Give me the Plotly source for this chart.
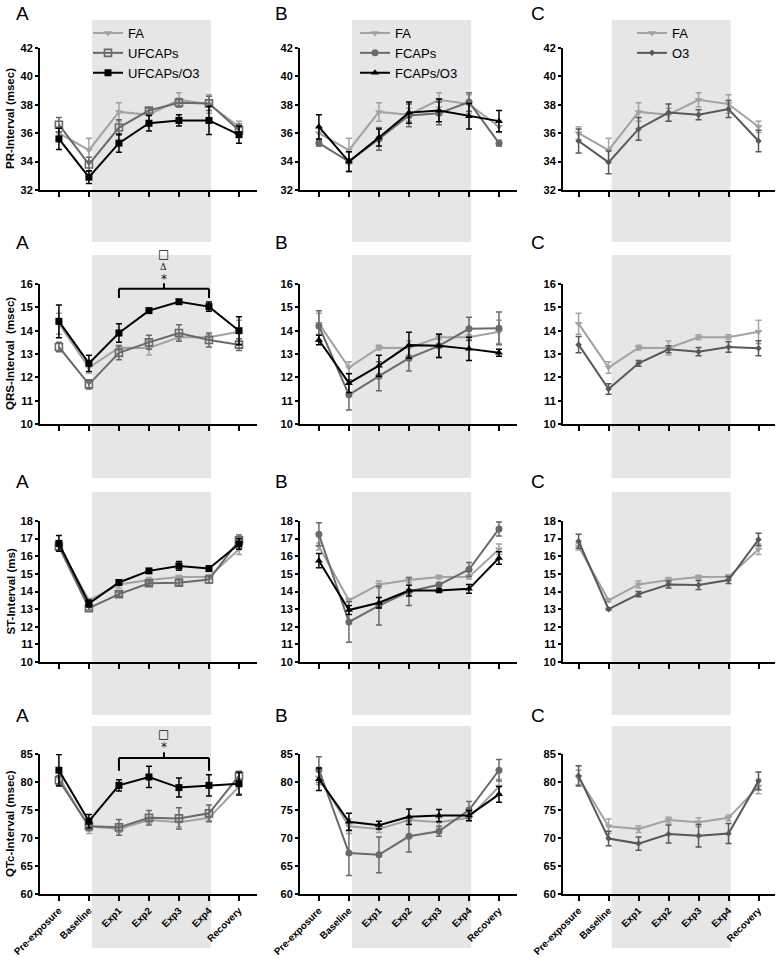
import plotly.graph_objects as go

# ---------------- data ----------------
categories = ["Pre-exposure", "Baseline", "Exp1", "Exp2", "Exp3", "Exp4", "Recovery"]

# PR-interval (msec)
pr_fa = [36.0, 34.8, 37.5, 37.3, 38.35, 38.05, 36.45]
pr_fa_err = [0.45, 0.85, 0.65, 0.45, 0.5, 0.65, 0.4]
pr_ufcaps = [36.6, 33.8, 36.4, 37.6, 38.15, 38.1, 36.2]
pr_ufcaps_err = [0.5, 0.5, 0.55, 0.2, 0.3, 0.5, 0.45]
pr_ufcaps_o3 = [35.6, 32.9, 35.3, 36.7, 36.9, 36.9, 35.9]
pr_ufcaps_o3_err = [0.75, 0.45, 0.65, 0.55, 0.4, 1.0, 0.6]
pr_fcaps = [35.3, 34.0, 35.6, 37.25, 37.4, 38.2, 35.3]
pr_fcaps_err = [0.2, 0.7, 0.8, 0.8, 0.8, 0.65, 0.2]
pr_fcaps_o3 = [36.45, 34.0, 35.7, 37.45, 37.6, 37.2, 36.85]
pr_fcaps_o3_err = [0.85, 0.7, 0.6, 0.75, 0.8, 0.9, 0.75]
pr_o3 = [35.45, 33.95, 36.3, 37.45, 37.3, 37.7, 35.45]
pr_o3_err = [0.85, 0.8, 0.8, 0.6, 0.35, 0.6, 0.75]

# QRS-interval (msec)
qrs_fa = [14.3, 12.42, 13.27, 13.26, 13.72, 13.72, 13.95]
qrs_fa_err = [0.45, 0.25, 0.1, 0.3, 0.1, 0.1, 0.5]
qrs_ufcaps = [13.3, 11.7, 13.05, 13.5, 13.9, 13.6, 13.4]
qrs_ufcaps_err = [0.2, 0.2, 0.3, 0.3, 0.35, 0.3, 0.25]
qrs_ufcaps_o3 = [14.4, 12.6, 13.9, 14.86, 15.24, 15.03, 14.0]
qrs_ufcaps_o3_err = [0.7, 0.35, 0.4, 0.08, 0.08, 0.2, 0.6]
qrs_fcaps = [14.2, 11.25, 12.05, 12.82, 13.35, 14.08, 14.1]
qrs_fcaps_err = [0.65, 0.65, 0.62, 0.55, 0.5, 0.5, 0.7]
qrs_fcaps_o3 = [13.6, 11.75, 12.5, 13.38, 13.35, 13.22, 13.05]
qrs_fcaps_o3_err = [0.2, 0.4, 0.45, 0.55, 0.5, 0.5, 0.15]
qrs_o3 = [13.4, 11.5, 12.6, 13.2, 13.1, 13.3, 13.25]
qrs_o3_err = [0.35, 0.22, 0.12, 0.15, 0.18, 0.22, 0.32]

# ST-interval (ms)
st_fa = [16.55, 13.5, 14.4, 14.65, 14.82, 14.83, 16.4]
st_fa_err = [0.2, 0.1, 0.2, 0.15, 0.1, 0.12, 0.3]
st_ufcaps = [16.55, 13.05, 13.85, 14.47, 14.5, 14.68, 16.9]
st_ufcaps_err = [0.2, 0.1, 0.12, 0.12, 0.15, 0.2, 0.3]
st_ufcaps_o3 = [16.73, 13.32, 14.51, 15.17, 15.45, 15.3, 16.7]
st_ufcaps_o3_err = [0.45, 0.2, 0.05, 0.06, 0.25, 0.08, 0.3]
st_fcaps = [17.25, 12.27, 13.2, 14.0, 14.38, 15.25, 17.55]
st_fcaps_err = [0.65, 1.15, 1.1, 0.8, 0.1, 0.4, 0.4]
st_fcaps_o3 = [15.75, 12.95, 13.36, 14.05, 14.05, 14.15, 15.9]
st_fcaps_o3_err = [0.4, 0.25, 0.3, 0.3, 0.1, 0.25, 0.35]
st_o3 = [16.85, 13.0, 13.85, 14.4, 14.37, 14.65, 16.95]
st_o3_err = [0.4, 0.05, 0.15, 0.2, 0.25, 0.2, 0.35]

# QTc-interval (msec)
qtc_fa = [80.8, 72.1, 71.6, 73.2, 72.8, 73.6, 79.2]
qtc_fa_err = [1.3, 1.3, 0.6, 0.5, 0.8, 0.5, 1.3]
qtc_ufcaps = [80.3, 72.1, 71.9, 73.6, 73.5, 74.4, 81.1]
qtc_ufcaps_err = [0.8, 0.8, 1.4, 1.3, 1.9, 1.5, 0.8]
qtc_ufcaps_o3 = [82.1, 73.0, 79.4, 80.9, 79.0, 79.4, 79.7]
qtc_ufcaps_o3_err = [2.8, 1.2, 1.0, 1.9, 1.7, 1.9, 2.0]
qtc_fcaps = [82.2, 67.3, 67.0, 70.3, 71.2, 75.0, 82.1]
qtc_fcaps_err = [2.3, 4.0, 3.2, 2.8, 0.9, 1.5, 1.9]
qtc_fcaps_o3 = [80.5, 72.9, 72.3, 73.8, 74.0, 74.0, 77.8]
qtc_fcaps_o3_err = [2.0, 1.5, 0.7, 1.4, 1.1, 0.9, 1.4]
qtc_o3 = [81.1, 69.9, 69.0, 70.7, 70.4, 70.8, 80.2]
qtc_o3_err = [1.8, 1.3, 1.2, 1.6, 2.0, 1.8, 1.6]

row_titles = ["PR-Interval (msec)", "QRS-Interval  (msec)", "ST-Interval (ms)", "QTc-Interval (msec)"]
y_ranges = [[32, 42], [10, 16], [10, 18], [60, 85]]
y_dticks = [2, 1, 1, 5]
panel_letters = ["A", "B", "C"]

# significance brackets: y of bar, y of drop ends, y of stem top; symbols with y
sig_qrs_levels = [15.8, 15.4, 16.03]
sig_qrs_symbols = [("*", 16.2), ("Δ", 16.72), ("□", 17.28)]
sig_qtc_levels = [84.3, 82.0, 85.3]
sig_qtc_symbols = [("*", 86.2), ("□", 88.6)]

# ---------------- layout geometry ----------------
W, H = 778, 958
col_px = [(40, 257), (300, 517), (563, 775)]
col_xrange = [[-0.63, 6.6], [-0.63, 6.6], [-0.52, 6.55]]
row_px = [(48, 190), (284, 424), (521, 662), (754, 894)]
shade_px = [(20, 242), (255, 478), (492, 715), (726, 948)]
letter_px_y = [13, 243, 481, 715]
letter_px_x = [22, 281, 538]
shade_x = [1.1, 5.07]

styles = {
    "FA": dict(color="#a2a2a2", symbol="triangle-down", size=7, open=False),
    "UFCAPs": dict(color="#696969", symbol="square-open", size=7, open=True),
    "UFCAPs/O3": dict(color="#000000", symbol="square", size=7, open=False),
    "FCAPs": dict(color="#6a6a6a", symbol="circle", size=7, open=False),
    "FCAPs/O3": dict(color="#000000", symbol="triangle-up", size=7, open=False),
    "O3": dict(color="#585858", symbol="diamond", size=5, open=False),
}

metrics = [
    dict(FA=(pr_fa, pr_fa_err), UFCAPs=(pr_ufcaps, pr_ufcaps_err), UO=(pr_ufcaps_o3, pr_ufcaps_o3_err),
         FCAPs=(pr_fcaps, pr_fcaps_err), FO=(pr_fcaps_o3, pr_fcaps_o3_err), O3=(pr_o3, pr_o3_err)),
    dict(FA=(qrs_fa, qrs_fa_err), UFCAPs=(qrs_ufcaps, qrs_ufcaps_err), UO=(qrs_ufcaps_o3, qrs_ufcaps_o3_err),
         FCAPs=(qrs_fcaps, qrs_fcaps_err), FO=(qrs_fcaps_o3, qrs_fcaps_o3_err), O3=(qrs_o3, qrs_o3_err)),
    dict(FA=(st_fa, st_fa_err), UFCAPs=(st_ufcaps, st_ufcaps_err), UO=(st_ufcaps_o3, st_ufcaps_o3_err),
         FCAPs=(st_fcaps, st_fcaps_err), FO=(st_fcaps_o3, st_fcaps_o3_err), O3=(st_o3, st_o3_err)),
    dict(FA=(qtc_fa, qtc_fa_err), UFCAPs=(qtc_ufcaps, qtc_ufcaps_err), UO=(qtc_ufcaps_o3, qtc_ufcaps_o3_err),
         FCAPs=(qtc_fcaps, qtc_fcaps_err), FO=(qtc_fcaps_o3, qtc_fcaps_o3_err), O3=(qtc_o3, qtc_o3_err)),
]
col_series = [
    [("FA", "FA"), ("UFCAPs", "UFCAPs"), ("UFCAPs/O3", "UO")],
    [("FA", "FA"), ("FCAPs", "FCAPs"), ("FCAPs/O3", "FO")],
    [("FA", "FA"), ("O3", "O3")],
]
legend_ids = ["legend", "legend2", "legend3"]

FONT = "Liberation Sans, Arial, sans-serif"
x_pos = list(range(len(categories)))

fig = go.Figure()
layout = dict(template="none", width=W, height=H, margin=dict(l=0, r=0, t=0, b=0, pad=0), autosize=False,
              paper_bgcolor="white", plot_bgcolor="rgba(0,0,0,0)",
              font=dict(family=FONT, color="black"), shapes=[], annotations=[])


def py(px):
    return 1 - px / H


def data_to_paper(r, v):
    lo, hi = y_ranges[r]
    top, bot = row_px[r]
    px = bot - (v - lo) / (hi - lo) * (bot - top)
    return py(px)


for r in range(4):
    for c in range(3):
        i = r * 3 + c + 1
        xa = "x" if i == 1 else f"x{i}"
        ya = "y" if i == 1 else f"y{i}"
        lo, hi = y_ranges[r]
        layout["xaxis" if i == 1 else f"xaxis{i}"] = dict(
            domain=[col_px[c][0] / W, col_px[c][1] / W], range=col_xrange[c], anchor=ya,
            tickmode="array", tickvals=x_pos, ticktext=categories, showticklabels=(r == 3),
            tickangle=-45, tickfont=dict(size=9.8, weight="bold", family=FONT),
            ticks="outside", ticklen=5, tickwidth=1.5, tickcolor="black", automargin=False,
            showline=True, linewidth=2, linecolor="black", showgrid=False, zeroline=False,
            fixedrange=True)
        layout["yaxis" if i == 1 else f"yaxis{i}"] = dict(
            domain=[py(row_px[r][1]), py(row_px[r][0])], range=[lo, hi], anchor=xa,
            tickmode="linear", tick0=lo, dtick=y_dticks[r], automargin=False,
            tickfont=dict(size=11, weight="bold", family=FONT),
            ticks="outside", ticklen=3, tickwidth=1.5, tickcolor="black",
            showline=True, linewidth=2, linecolor="black", showgrid=False, zeroline=False,
            fixedrange=True)
        # grey exposure shading
        layout["shapes"].append(dict(type="rect", xref=xa, yref="paper", x0=shade_x[0], x1=shade_x[1],
                                     y0=py(shade_px[r][1]), y1=py(shade_px[r][0]),
                                     fillcolor="#e6e6e6", line=dict(width=0), layer="below"))
        # traces
        for name, key in col_series[c]:
            vals, errs = metrics[r][key]
            st = styles[name]
            mk = dict(symbol=st["symbol"], size=st["size"], color=st["color"])
            if st["open"]:
                mk["line"] = dict(width=1.6, color=st["color"])
            fig.add_trace(go.Scatter(
                x=x_pos, y=vals, mode="lines+markers", name=name,
                line=dict(color=st["color"], width=2), marker=mk,
                error_y=dict(type="data", array=errs, visible=True, color=st["color"],
                             thickness=1.5, width=3),
                xaxis=xa, yaxis=ya, showlegend=(r == 0), legend=legend_ids[c],
                cliponaxis=False, hoverinfo="skip"))
        # panel letter
        layout["annotations"].append(dict(text=panel_letters[c], xref="paper", yref="paper",
                                          x=letter_px_x[c] / W, y=py(letter_px_y[r]),
                                          xanchor="center", yanchor="middle", showarrow=False,
                                          font=dict(size=19, family=FONT)))
    # y title on first column
    layout["annotations"].append(dict(text=row_titles[r], xref="paper", yref="paper",
                                      x=10 / W, y=py((row_px[r][0] + row_px[r][1]) / 2),
                                      textangle=-90, xanchor="center", yanchor="middle",
                                      showarrow=False, font=dict(size=11.5, weight="bold", family=FONT)))

# significance brackets in column A
for r, levels, symbols in [(1, sig_qrs_levels, sig_qrs_symbols), (3, sig_qtc_levels, sig_qtc_symbols)]:
    i = r * 3 + 1
    xa = f"x{i}"
    bar, drop, stem = levels
    x0, x1 = 2, 5
    xm = (x0 + x1) / 2
    segs = [(x0, bar, x1, bar), (x0, bar, x0, drop), (x1, bar, x1, drop), (xm, bar, xm, stem)]
    for a, b, cc, d in segs:
        layout["shapes"].append(dict(type="line", xref=xa, yref="paper", x0=a, x1=cc,
                                     y0=data_to_paper(r, b), y1=data_to_paper(r, d),
                                     line=dict(color="black", width=2)))
    for sym, yv in symbols:
        layout["annotations"].append(dict(text=sym, xref=xa, yref="paper", x=xm, y=data_to_paper(r, yv),
                                          xanchor="center", yanchor="middle", showarrow=False,
                                          font=dict(size={"*": 12, "Δ": 9, "□": 12}[sym], color="#111111",
                                                    family="DejaVu Serif" if sym == "Δ" else "DejaVu Sans")))

# legends
leg_common = dict(bgcolor="rgba(0,0,0,0)", borderwidth=0, font=dict(size=13, family=FONT),
                  xanchor="left", yanchor="top", itemwidth=30, tracegroupgap=0, itemclick=False,
                  itemdoubleclick=False)
layout["legend"] = dict(leg_common, x=88 / W, y=py(18))
layout["legend2"] = dict(leg_common, x=355 / W, y=py(18))
layout["legend3"] = dict(leg_common, x=632 / W, y=py(18))
layout["showlegend"] = True

fig.update_layout(**layout)
# remove the browser's default 8px page margin so the figure sits at the window origin
fig.write_html("out.html", config={"displayModeBar": False, "staticPlot": False},
               post_script="document.body.style.margin='0px';document.body.style.overflow='hidden';")
